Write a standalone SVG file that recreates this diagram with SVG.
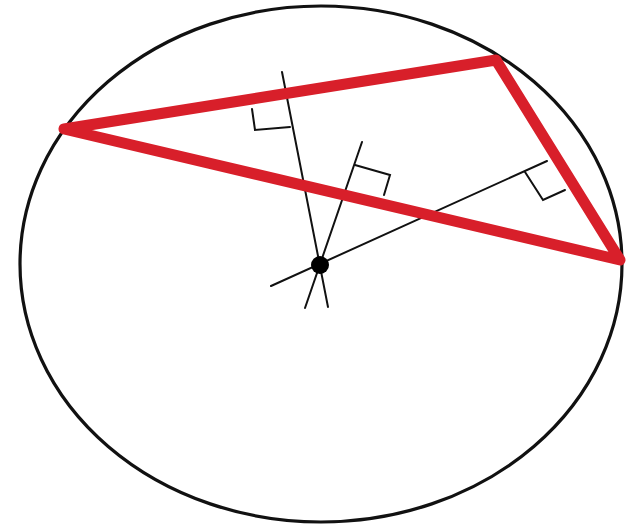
<svg xmlns="http://www.w3.org/2000/svg" width="628" height="531" viewBox="0 0 628 531">
<style>
.thin{fill:none;stroke:#111;stroke-width:2;stroke-linecap:round;stroke-linejoin:miter}
.circ{fill:none;stroke:#111;stroke-width:3.2}
.tri{fill:none;stroke:#d81f2a;stroke-width:11;stroke-linejoin:round;stroke-linecap:round}
</style>
<rect width="628" height="531" fill="#fff"/>
<g id="circle"><ellipse class="circ" cx="321" cy="264" rx="301" ry="258"/></g>
<g id="connectors">
<line class="thin" x1="282" y1="72" x2="328" y2="307"/>
<line class="thin" x1="362" y1="142" x2="305" y2="308"/>
<line class="thin" x1="271" y1="286" x2="547" y2="161"/>
<polyline class="thin" points="252,109 255,130 290,127"/>
<polyline class="thin" points="355,165 390,175 384,195"/>
<polyline class="thin" points="525,172 543,200 565,190"/>
</g>
<g id="triangle"><polygon class="tri" points="64,129 496,60 620,260"/></g>
<g id="center"><circle cx="320" cy="265" r="9" fill="#000"/></g>
</svg>
